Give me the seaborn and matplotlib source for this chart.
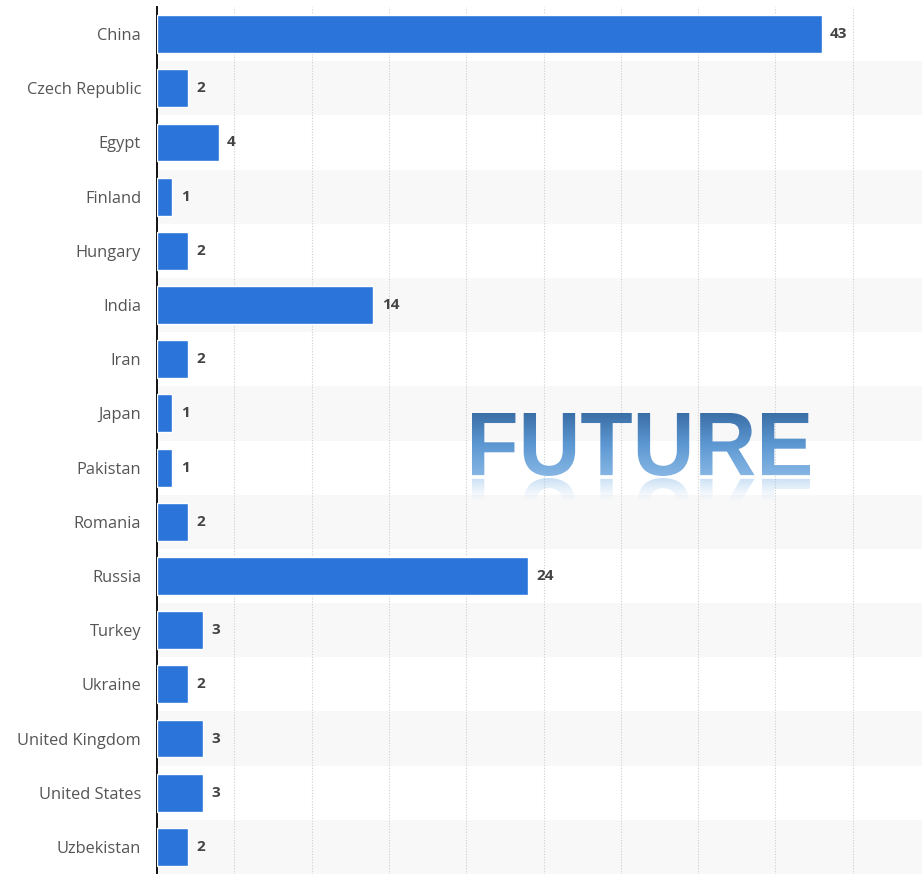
import numpy as np
import pandas as pd
import matplotlib
matplotlib.use("Agg")
import matplotlib.pyplot as plt
import seaborn as sns
from matplotlib.textpath import TextPath
from matplotlib.font_manager import FontProperties
from matplotlib.patches import PathPatch
from matplotlib.transforms import Affine2D
from matplotlib.colors import LinearSegmentedColormap

countries = ["China", "Czech Republic", "Egypt", "Finland", "Hungary", "India", "Iran",
             "Japan", "Pakistan", "Romania", "Russia", "Turkey", "Ukraine",
             "United Kingdom", "United States", "Uzbekistan"]
values = [43, 2, 4, 1, 2, 14, 2, 1, 1, 2, 24, 3, 2, 3, 3, 2]
watermark = "FUTURE"

W, H = 922, 874
sns.set_theme(style="white")
plt.rcParams['font.family'] = ['Open Sans', 'DejaVu Sans']

fig = plt.figure(figsize=(W / 100, H / 100), dpi=100)
ax = fig.add_axes([157 / W, 0.0, 1 - 157 / W, (H - 7) / H])

df = pd.DataFrame({"country": countries, "value": values})
for i in range(len(countries)):
    if i % 2 == 1:
        ax.axhspan(i - 0.5, i + 0.5, color="#f8f8f8", zorder=0, lw=0)

sns.barplot(data=df, x="value", y="country", orient="h", color="#2a74da",
            saturation=1, width=0.7, ax=ax, zorder=3)
for c in ax.containers:
    ax.bar_label(c, labels=[str(v) for v in values], padding=6, fontsize=11,
                 fontweight="bold", color="#444444")

ax.set_xlim(0, 765 / 15.46)
ax.set_xticks(np.arange(5, 50, 5))
ax.xaxis.grid(True, linestyle=(0, (1, 1.5)), color="#cfcfcf", lw=0.8)
ax.set_axisbelow(True)
ax.tick_params(axis="x", bottom=False, labelbottom=False)
ax.tick_params(axis="y", left=False, labelsize=11.8, labelcolor="#555555", pad=5.5)
ax.set_xlabel("")
ax.set_ylabel("")
for s in ["top", "right", "bottom"]:
    ax.spines[s].set_visible(False)
ax.spines["left"].set_color("#111111")
ax.spines["left"].set_linewidth(1.4)

# Watermark with gradient and reflection in pixel-coordinate overlay
ov = fig.add_axes([0, 0, 1, 1], zorder=10)
ov.set_xlim(0, W)
ov.set_ylim(0, H)
ov.axis("off")
ov.patch.set_alpha(0)

fp = FontProperties(family="Liberation Sans", weight="bold")
tp = TextPath((0, 0), watermark, size=100, prop=fp)
ext = tp.get_extents()
x0, x1 = 472, 810
ytop, ybase = H - 413, H - 476
sx = (x1 - x0) / ext.width
sy = (ytop - ybase) / ext.height
tr = Affine2D().translate(-ext.x0, -ext.y0).scale(sx, sy).translate(x0, ybase)
path = tr.transform_path(tp)
patch = PathPatch(path, facecolor="none", edgecolor="none")
ov.add_patch(patch)
cmap = LinearSegmentedColormap.from_list("g", ["#3a6ea6", "#5d98d2", "#86b6e4"])
grad = np.linspace(0, 1, 256).reshape(-1, 1)
im = ov.imshow(grad, cmap=cmap, extent=[x0, x1, ybase, ytop], origin="upper",
               aspect="auto", zorder=11)
im.set_clip_path(patch)

# reflection
rtr = Affine2D().translate(-ext.x0, -ext.y0).scale(sx, -sy).translate(x0, ybase - 2)
rpath = rtr.transform_path(tp)
rpatch = PathPatch(rpath, facecolor="none", edgecolor="none")
ov.add_patch(rpatch)
refl = np.zeros((256, 1, 4))
col = matplotlib.colors.to_rgb("#8cbbe8")
refl[:, 0, :3] = col
refl[:, 0, 3] = np.linspace(0.55, 0.0, 256) ** 1.3
rh = 24
im2 = ov.imshow(refl, extent=[x0, x1, ybase - 2 - rh, ybase - 2], origin="upper",
                aspect="auto", zorder=11)
im2.set_clip_path(rpatch)
ov.set_xlim(0, W)
ov.set_ylim(0, H)

fig.savefig("out.png", dpi=100)
